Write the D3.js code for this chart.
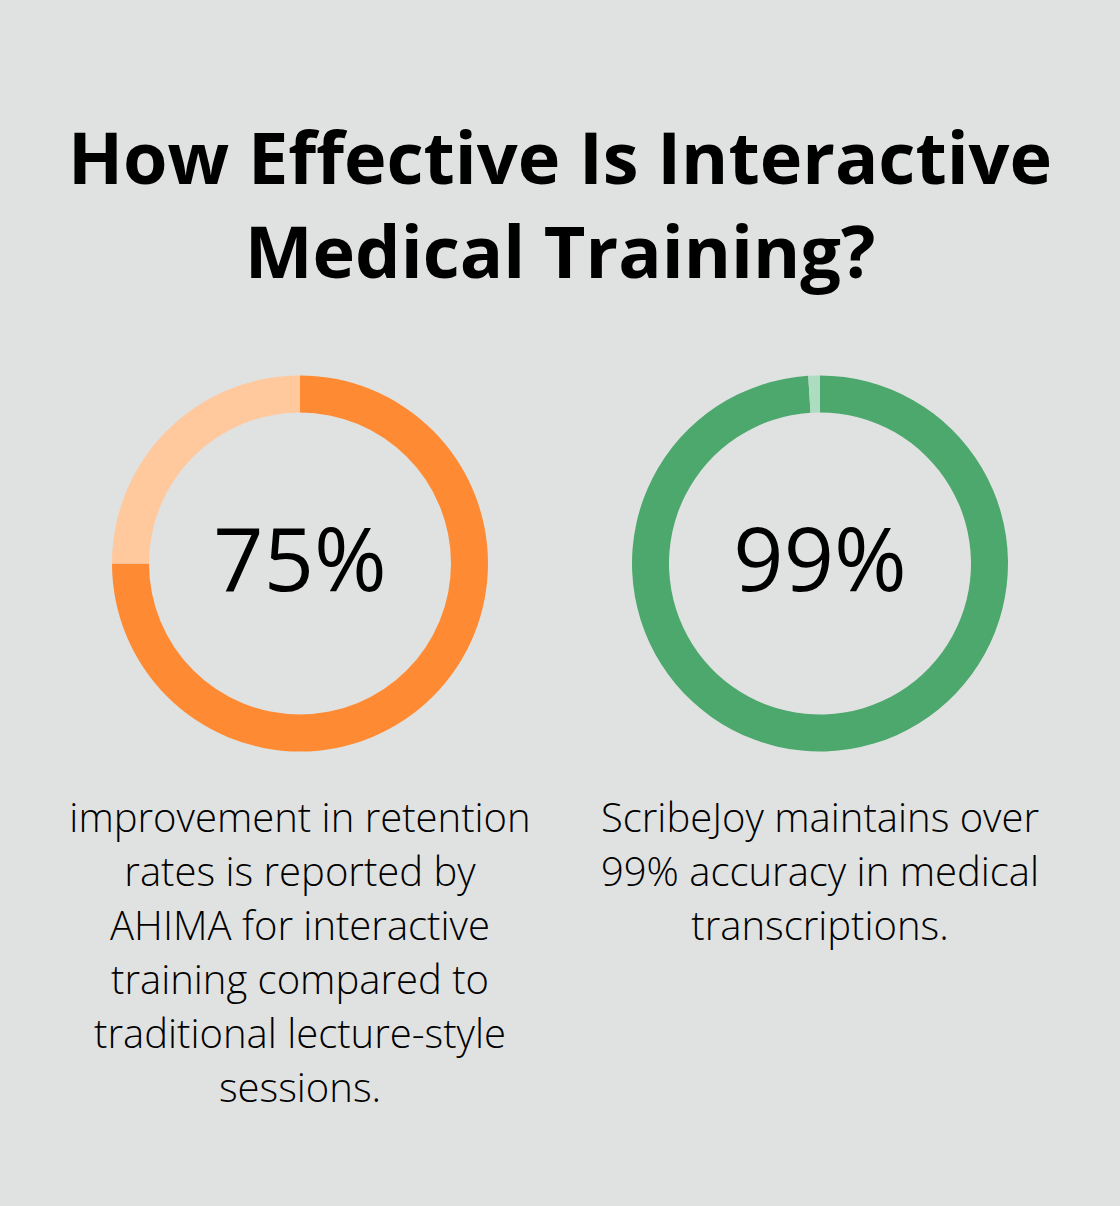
<!DOCTYPE html>
<html>
<head>
<meta charset="utf-8">
<script src="https://cdn.jsdelivr.net/npm/d3@7"></script>
<style>
  html, body { margin: 0; padding: 0; background: #E0E2E1; }
  svg { display: block; }
</style>
</head>
<body>
<svg id="chart" width="1120" height="1206"></svg>
<script>
const titleLines = ["How Effective Is Interactive", "Medical Training?"];
const labels = ["75%", "99%"];
const values = [75, 99];
const mainColors = ["#FE8B34", "#4DA86D"];
const restColors = ["#FFC89D", "#ADDDC0"];
const captions = [
  ["improvement in retention", "rates is reported by", "AHIMA for interactive", "training compared to", "traditional lecture-style", "sessions."],
  ["ScribeJoy maintains over", "99% accuracy in medical", "transcriptions."]
];

const W = 1120, H = 1206;
const svg = d3.select("#chart");
svg.append("rect").attr("width", W).attr("height", H).attr("fill", "#E0E2E1");

svg.append("g").selectAll("text").data(titleLines).join("text")
  .attr("x", 560)
  .attr("y", (d, i) => 184 + i * 94)
  .attr("text-anchor", "middle")
  .attr("font-family", "'Open Sans', sans-serif")
  .attr("font-weight", 700)
  .attr("font-size", 72)
  .attr("fill", "#000")
  .text(d => d);

const x = d3.scalePoint().domain(d3.range(values.length)).range([300, 820]);
const cy = 563.5;
const outerR = 188, innerR = 151;
const pie = d3.pie().sort(null).value(d => d);
const arc = d3.arc().innerRadius(innerR).outerRadius(outerR);

values.forEach((v, i) => {
  const g = svg.append("g").attr("transform", `translate(${x(i)},${cy})`);
  g.selectAll("path").data(pie([v, 100 - v])).join("path")
    .attr("d", arc)
    .attr("fill", (d, j) => j === 0 ? mainColors[i] : restColors[i]);
  g.append("text")
    .attr("x", 0).attr("y", 27)
    .attr("text-anchor", "middle")
    .attr("font-family", "'Open Sans', sans-serif")
    .attr("font-weight", 400)
    .attr("font-size", 88)
    .attr("fill", "#000")
    .text(labels[i]);
  svg.append("g").selectAll("text").data(captions[i]).join("text")
    .attr("x", x(i))
    .attr("y", (d, k) => 832 + k * 54)
    .attr("text-anchor", "middle")
    .attr("font-family", "'Open Sans', sans-serif")
    .attr("font-weight", 300)
    .attr("font-size", 40)
    .attr("fill", "#000")
    .text(d => d);
});
</script>
</body>
</html>
